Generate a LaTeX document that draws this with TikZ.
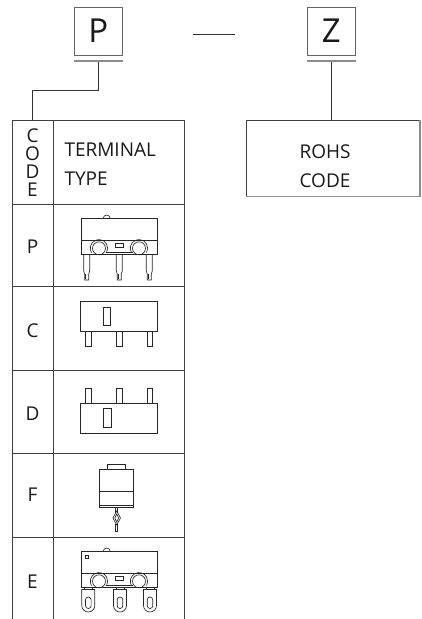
\documentclass[tikz,border=0pt]{standalone}
\usepackage{fontspec}
\setmainfont{Open Sans}
\usetikzlibrary{calc}
\tikzset{
  conn/.style={draw=black!80, line width=0.8pt},
  grid/.style={draw=black!75, line width=0.8pt},
  codebox/.style={draw=black!60, line width=1pt, minimum width=48pt, minimum height=47.7pt, inner sep=0pt, font=\fontsize{33}{33}\selectfont, text=black!90},
  uline/.style={draw=black!45, line width=2.2pt},
  cell/.style={draw=black!75, line width=0.8pt, inner sep=0pt},
  lbl/.style={font=\fontsize{19}{19}\selectfont, inner sep=0pt, text=black!90},
  icon/.style={draw=black!85, line width=0.65pt},
}
\newcommand{\swhousing}{%
  \draw[icon] (81,-21.5) rectangle (157.7,0);
  \draw[icon] (103.2,-21.5) arc[start angle=180,end angle=360,radius=3.5];
  \draw[icon] (81,0) -- (81,14) -- (157.7,14) -- (157.7,0);
  \draw[icon] (105.5,12) -- (132.5,12);
  \draw[icon] (99,8.3) circle[radius=6.5];
  \draw[icon] (139,8.3) circle[radius=6.5];
  \draw[icon] ($(99,8.3)+(150:8.7)$) arc[start angle=150,end angle=390,radius=8.7];
  \draw[icon] ($(139,8.3)+(150:8.7)$) arc[start angle=150,end angle=390,radius=8.7];
  \draw[icon] (115.5,3) rectangle (123,7);
}
\newcommand{\swpin}[1]{%
  \draw[icon] (#1-3,14) -- (#1-3,31) -- (#1-2,34) -- (#1-2,40) -- (#1+2,40) -- (#1+2,34) -- (#1+3,31) -- (#1+3,14);
  \draw[icon] (#1-1,34) -- (#1-1,39);
}
\newcommand{\swlug}[1]{%
  \draw[icon] (#1-6.5,16.5) -- (#1-6.5,32.5) arc[start angle=180,end angle=0,radius=6.5] -- (#1+6.5,16.5) -- cycle;
  \draw[icon, rounded corners=2.8pt] (#1-2.8,24) rectangle (#1+2.8,35.5);
  \draw[icon] (#1-4,14) -- (#1-4,16.5);
  \draw[icon] (#1+4,14) -- (#1+4,16.5);
}
\begin{document}
\begin{tikzpicture}[x=1pt,y=-1pt]
\useasboundingbox (0,0) rectangle (422,619);

% code boxes
\node[codebox] (P) at (98.3,31.2) {P};
\node[codebox] (Z) at (331.2,31.2) {Z};
\draw[uline] ($(P.south west)+(0,5.5)$) -- ($(P.south east)+(0,5.5)$);
\draw[uline] ($(Z.south west)+(0,5.5)$) -- ($(Z.south east)+(0,5.5)$);
\draw[conn] (192.7,34) -- (235,34);

% table header
\node[cell, minimum width=41pt, minimum height=83.7pt] (codehdr) at (32.8,162.15) {};
\node[cell, minimum width=131.2pt, minimum height=83.7pt] (typehdr) at (118.9,162.15) {};
\node[lbl] (c1) at (32.5,135.5) {C};
\node[lbl] (c2) at (32.5,153.5) {O};
\node[lbl] (c3) at (32.5,171.5) {D};
\node[lbl] (c4) at (32.5,189.5) {E};
\node[lbl, anchor=base west] (t1) at (64.3,156.7) {TERMINAL};
\node[lbl, anchor=base west] (t2) at (64.3,185) {TYPE};

% ROHS box
\node[cell, minimum width=173pt, minimum height=75.3pt] (rohs) at (332.8,158.35) {};
\draw[draw=black!45, line width=1.6pt] (rohs.north east) -- (rohs.south east) -- (rohs.south west);
\node[lbl, anchor=base] (r1) at (325,158.3) {ROHS};
\node[lbl, anchor=base] (r2) at (325,187.7) {CODE};

% connectors
\draw[conn] ($(P.south)+(0,6.6)$) -- ++(0,28.4) -| (codehdr.north);
\draw[conn] ($(Z.south)+(0,6.6)$) -- (Z.south |- rohs.north);

% table body
\draw[grid] (12.3,204) -- (12.3,619);
\draw[grid] (53.3,204) -- (53.3,619);
\draw[grid] (184.5,204) -- (184.5,619);
\foreach \yy in {286,370,453.3,537} \draw[grid] (12.3,\yy) -- (184.5,\yy);

\node[lbl] (lp) at (32.5,246.3) {P};
\node[lbl] (lc) at (32.5,330.7) {C};
\node[lbl] (ld) at (32.5,413.3) {D};
\node[lbl] (lf) at (32.5,495) {F};
\node[lbl] (le) at (32.5,581.7) {E};

% P icon
\begin{scope}[shift={(0,240)}]
  \swhousing
  \swpin{86.7}\swpin{119.3}\swpin{149.3}
\end{scope}

% C icon
\draw[icon] (80.3,301.7) rectangle (157.3,331);
\draw[icon] (103.3,307.3) rectangle (110.7,325.3);
\foreach \px in {85.7,116.3,147} \draw[icon] (\px,331) rectangle (\px+5.6,346.3);

% D icon
\foreach \px in {85.7,116.3,147} \draw[icon] (\px,388.3) rectangle (\px+5.6,403.3);
\draw[icon] (80.3,403.3) rectangle (157.3,433.3);
\draw[icon] (103.5,408.3) rectangle (111,427.3);

% F icon
\draw[icon] (107.5,464.3) rectangle (125.7,469);
\draw[icon] (99.7,469) rectangle (133.8,507.5);
\draw[icon] (99.7,491.5) -- (133.8,491.5);
\draw[icon] (99.7,505.5) -- (133.8,505.5);
\draw[icon] (115.7,507.5) -- (115.7,512.5);
\draw[icon] (117.7,507.5) -- (117.7,512.5);
\draw[icon] (116.7,511) -- (120.5,518) -- (116.7,525) -- (112.9,518) -- cycle;
\draw[icon] (116.7,514) -- (118.6,518) -- (116.7,522) -- (114.8,518) -- cycle;
\draw[icon] (115.7,523.5) -- (115.7,531) -- (117.7,531) -- (117.7,523.5);

% E icon
\begin{scope}[shift={(0,573)}]
  \swhousing
  \draw[icon] (85.5,-17.5) rectangle (88,-14.5);
  \swlug{88.3}\swlug{120}\swlug{150}
\end{scope}
\end{tikzpicture}
\end{document}
